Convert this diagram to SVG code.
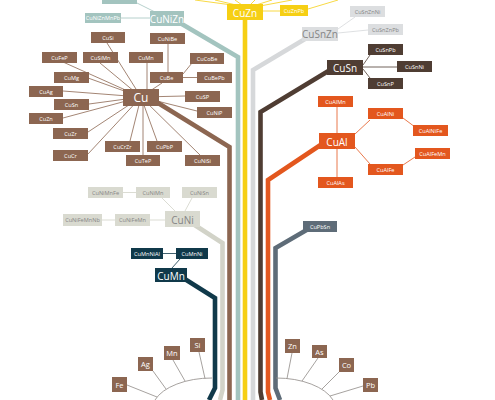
<svg xmlns="http://www.w3.org/2000/svg" width="495" height="400" viewBox="0 0 495 400">
<style>
text{font-family:"Open Sans","Noto Sans","Liberation Sans",sans-serif;text-anchor:middle;dominant-baseline:central}
.s{font-size:5.6px}
.m{font-size:10px}
.e{font-size:7.5px}
.w{fill:#fff}
.g{fill:#858585}
.yt{fill:#fff}
.trunk{fill:none;stroke-width:4.6;stroke-linejoin:miter}
.thin{fill:none;stroke-width:0.8}
.br{fill:#8c6651}.bl{stroke:#8c6651}
.el{stroke:#8f8a86}
.ye{fill:#f6cf14}.yl{stroke:#f6cf14}
.te{fill:#a3c4bf}.tl{stroke:#a3c4bf}
.be{fill:#d9dad0}.bel{stroke:#d2d3c8}
.lg{fill:#dcdee0}.lgl{stroke:#d6d8da}
.db{fill:#4f3d33}.dbl{stroke:#4f3d33}
.or{fill:#e3571e}.orl{stroke:#e3571e}
.sl{fill:#5e6c78}.sll{stroke:#5e6c78}
.nv{fill:#10394a}.nvl{stroke:#10394a}
</style>
<rect width="495" height="400" fill="#fff"/>
<g id="connectors">
<path class="trunk yl" d="M245,18 V400"/>
<path class="trunk tl" d="M175,20 L238,57 V400"/>
<path class="trunk bl" d="M150,98 L229.5,147 V400"/>
<path class="trunk bel" d="M190,222 L222.5,243 V390 L220,400"/>
<path class="trunk nvl" d="M180,276 L215,298 V388 L209,400"/>
<path class="trunk lgl" d="M310,36 L253,70 V400"/>
<path class="trunk dbl" d="M335,67 L260.5,112 V392 L262,400"/>
<path class="trunk orl" d="M325,142 L268,180 V392 L270,400"/>
<path class="trunk sll" d="M310,228 L275.5,248 V388 L280,400"/>
<g class="thin yl">
<path d="M232,5 L195,0"/><path d="M236,5 L215,0"/><path d="M242,5 L235,0"/><path d="M250,5 L255,0"/><path d="M256,5 L272,0"/><path d="M260,6 L292,0"/>
<path d="M263,11 H280"/><path d="M308,9 L338,0"/>
</g>
<g class="thin tl"><path d="M121,18 H150"/><path d="M137,3 L155,12"/></g>
<g class="thin bl">
<path d="M107,43 L141,97"/><path d="M63,62 L141,97"/><path d="M100,63 L141,97"/><path d="M147,63 V97"/>
<path d="M88,78 L141,97"/><path d="M63,91 L141,97"/><path d="M89,104 L141,97"/><path d="M63,118 L141,97"/>
<path d="M88,132 L141,97"/><path d="M88,154 L141,97"/><path d="M130,141 L141,97"/><path d="M143,155 V97"/><path d="M157,141 L141,97"/><path d="M200,155 L141,97"/>
<path d="M185,96 L141,97"/><path d="M197,111 L141,97"/><path d="M162,83 L141,97"/>
<path d="M168,44 V72"/><path d="M183,74 L192,63"/><path d="M183,77.5 H197"/>
</g>
<g class="thin lgl"><path d="M338,29 L355,17"/><path d="M338,33 L368,30"/></g>
<g class="thin dbl"><path d="M363,65 L370,55"/><path d="M363,67 H397"/><path d="M363,69 L370,78"/></g>
<g class="thin orl"><path d="M337,107 V133"/><path d="M337,149 V177"/><path d="M355,134 L370,120"/><path d="M403,118 L415,127"/><path d="M355,147 L370,164"/><path d="M403,165 L415,157"/></g>
<g class="thin bel"><path d="M123,192.5 H136"/><path d="M162,198 L175,211"/><path d="M192,198 L185,211"/><path d="M102,220 H115"/><path d="M150,220 H165"/></g>
<g class="thin nvl"><path d="M163,253.5 H176"/><path d="M180,259 L172,268"/></g>
<g class="thin el">
<path d="M155,400 A60,32 0 0 1 212,378"/>
<path d="M276,378 A60,32 0 0 1 333,400"/>
<path d="M127,385 L157,397"/><path d="M153,371 L166,389"/><path d="M173,360 L185,381"/><path d="M199,352 L205,378.5"/>
<path d="M292,353 L287,378.5"/><path d="M318,358 L302,381"/><path d="M339,372 L322,389"/><path d="M363,386 L330,396"/>
</g>
</g>

<g id="CuZn"><rect class="ye" x="227" y="4" width="36" height="16"/><text class="m yt" x="245" y="12.5">CuZn</text></g>
<g id="CuZnPb"><rect class="ye" x="280" y="5" width="28" height="11"/><text class="s yt" x="294" y="10.5">CuZnPb</text></g>
<g id="CuNiZn"><rect class="te" x="150" y="11" width="34" height="15"/><text class="m w" x="167" y="18.5">CuNiZn</text></g>
<g id="CuNiZnMnPb"><rect class="te" x="85" y="13" width="36" height="10"/><text class="s w" x="103" y="18">CuNiZnMnPb</text></g>
<g id="CuNiZnTop"><rect class="te" x="102" y="-7" width="35" height="11"/></g>

<g id="CuSi"><rect class="br" x="91" y="32" width="34" height="11"/><text class="s w" x="108" y="37.5">CuSi</text></g>
<g id="CuNiBe"><rect class="br" x="150" y="33" width="35" height="11"/><text class="s w" x="167.5" y="38.5">CuNiBe</text></g>
<g id="CuFeP"><rect class="br" x="42" y="52" width="35" height="11"/><text class="s w" x="59.5" y="57.5">CuFeP</text></g>
<g id="CuSiMn"><rect class="br" x="83" y="52" width="35" height="11"/><text class="s w" x="100.5" y="57.5">CuSiMn</text></g>
<g id="CuMn1"><rect class="br" x="129" y="52" width="34" height="11"/><text class="s w" x="146" y="57.5">CuMn</text></g>
<g id="CuCoBe"><rect class="br" x="190" y="53" width="34" height="11"/><text class="s w" x="207" y="58.5">CuCoBe</text></g>
<g id="CuMg"><rect class="br" x="54" y="72" width="35" height="11"/><text class="s w" x="71.5" y="77.5">CuMg</text></g>
<g id="CuBe"><rect class="br" x="150" y="72" width="33" height="11"/><text class="s w" x="166.5" y="77.5">CuBe</text></g>
<g id="CuBePb"><rect class="br" x="197" y="72" width="35" height="11"/><text class="s w" x="214.5" y="77.5">CuBePb</text></g>
<g id="CuAg"><rect class="br" x="29" y="86" width="34" height="11"/><text class="s w" x="46" y="91.5">CuAg</text></g>
<g id="CuSP"><rect class="br" x="185" y="91" width="35" height="11"/><text class="s w" x="202.5" y="96.5">CuSP</text></g>
<g id="CuSn1"><rect class="br" x="54" y="99" width="35" height="11"/><text class="s w" x="71.5" y="104.5">CuSn</text></g>
<g id="CuNiP"><rect class="br" x="197" y="107" width="35" height="11"/><text class="s w" x="214.5" y="112.5">CuNiP</text></g>
<g id="CuZn1"><rect class="br" x="29" y="113" width="34" height="11"/><text class="s w" x="46" y="118.5">CuZn</text></g>
<g id="CuZr"><rect class="br" x="53" y="128" width="35" height="11"/><text class="s w" x="70.5" y="133.5">CuZr</text></g>
<g id="CuCrZr"><rect class="br" x="105" y="141" width="35" height="11"/><text class="s w" x="122.5" y="146.5">CuCrZr</text></g>
<g id="CuPbP"><rect class="br" x="147" y="141" width="35" height="11"/><text class="s w" x="164.5" y="146.5">CuPbP</text></g>
<g id="CuCr"><rect class="br" x="53" y="150" width="35" height="11"/><text class="s w" x="70.5" y="155.5">CuCr</text></g>
<g id="CuTeP"><rect class="br" x="126" y="155" width="34" height="11"/><text class="s w" x="143" y="160.5">CuTeP</text></g>
<g id="CuNiSi"><rect class="br" x="185" y="155" width="35" height="11"/><text class="s w" x="202.5" y="160.5">CuNiSi</text></g>
<g id="Cu"><rect class="br" x="123" y="89" width="36" height="17"/><text class="w" style="font-size:12px" x="141" y="97.5">Cu</text></g>

<g id="CuSnZn"><rect class="lg" x="302" y="27" width="36" height="14"/><text class="m g" x="320" y="34">CuSnZn</text></g>
<g id="CuSnZnNi"><rect class="lg" x="350" y="6" width="35" height="11"/><text class="s g" x="367.5" y="11.5">CuSnZnNi</text></g>
<g id="CuSnZnPb"><rect class="lg" x="368" y="24" width="35" height="11"/><text class="s g" x="385.5" y="29.5">CuSnZnPb</text></g>

<g id="CuSn"><rect class="db" x="327" y="60" width="36" height="15"/><text class="m w" x="345" y="67.5">CuSn</text></g>
<g id="CuSnPb"><rect class="db" x="368" y="44" width="35" height="11"/><text class="s w" x="385.5" y="49.5">CuSnPb</text></g>
<g id="CuSnNi"><rect class="db" x="397" y="61" width="35" height="11"/><text class="s w" x="414.5" y="66.5">CuSnNi</text></g>
<g id="CuSnP"><rect class="db" x="368" y="78" width="35" height="11"/><text class="s w" x="385.5" y="83.5">CuSnP</text></g>

<g id="CuAlMn"><rect class="or" x="318" y="96" width="35" height="11"/><text class="s w" x="335.5" y="101.5">CuAlMn</text></g>
<g id="CuAlNi"><rect class="or" x="368" y="108" width="35" height="11"/><text class="s w" x="385.5" y="113.5">CuAlNi</text></g>
<g id="CuAlNiFe"><rect class="or" x="413" y="125" width="35" height="11"/><text class="s w" x="430.5" y="130.5">CuAlNiFe</text></g>
<g id="CuAl"><rect class="or" x="319" y="133" width="36" height="16"/><text class="m w" x="337" y="141.5">CuAl</text></g>
<g id="CuAlFeMn"><rect class="or" x="415" y="148" width="35" height="11"/><text class="s w" x="432.5" y="153.5">CuAlFeMn</text></g>
<g id="CuAlFe"><rect class="or" x="368" y="164" width="35" height="11"/><text class="s w" x="385.5" y="169.5">CuAlFe</text></g>
<g id="CuAlAs"><rect class="or" x="318" y="177" width="35" height="11"/><text class="s w" x="335.5" y="182.5">CuAlAs</text></g>

<g id="CuNiMnFe"><rect class="be" x="88" y="187" width="35" height="11"/><text class="s g" x="105.5" y="192.5">CuNiMnFe</text></g>
<g id="CuNiMn"><rect class="be" x="136" y="187" width="34" height="11"/><text class="s g" x="153" y="192.5">CuNiMn</text></g>
<g id="CuNiSn"><rect class="be" x="182" y="187" width="35" height="11"/><text class="s g" x="199.5" y="192.5">CuNiSn</text></g>
<g id="CuNiFeMnNb"><rect class="be" x="63" y="214" width="39" height="12"/><text class="s g" x="82.5" y="220">CuNiFeMnNb</text></g>
<g id="CuNiFeMn"><rect class="be" x="115" y="214" width="35" height="12"/><text class="s g" x="132.5" y="220">CuNiFeMn</text></g>
<g id="CuNi"><rect class="be" x="165" y="211" width="35" height="16"/><text class="m g" x="182.5" y="219.5">CuNi</text></g>

<g id="CuPbSn"><rect class="sl" x="303" y="221" width="34" height="11"/><text class="s w" x="320" y="226.5">CuPbSn</text></g>

<g id="CuMnNiAl"><rect class="nv" x="131" y="248" width="32" height="11"/><text class="s w" x="147" y="253.5">CuMnNiAl</text></g>
<g id="CuMnNi"><rect class="nv" x="176" y="248" width="32" height="11"/><text class="s w" x="192" y="253.5">CuMnNi</text></g>
<g id="CuMn"><rect class="nv" x="155" y="268" width="32" height="14"/><text class="m w" x="171" y="275.5">CuMn</text></g>

<g id="Fe"><rect class="br" x="112" y="377" width="15" height="15"/><text class="e w" x="119.5" y="384.5">Fe</text></g>
<g id="Ag"><rect class="br" x="138" y="357" width="15" height="14"/><text class="e w" x="145.5" y="364">Ag</text></g>
<g id="Mn"><rect class="br" x="164" y="346" width="16" height="14"/><text class="e w" x="172" y="353">Mn</text></g>
<g id="Si"><rect class="br" x="190" y="338" width="15" height="14"/><text class="e w" x="197.5" y="345">Si</text></g>
<g id="Zn"><rect class="br" x="285" y="339" width="15" height="14"/><text class="e w" x="292.5" y="346">Zn</text></g>
<g id="As"><rect class="br" x="312" y="345" width="15" height="13"/><text class="e w" x="319.5" y="351.5">As</text></g>
<g id="Co"><rect class="br" x="339" y="358" width="15" height="14"/><text class="e w" x="346.5" y="365">Co</text></g>
<g id="Pb"><rect class="br" x="363" y="378" width="15" height="14"/><text class="e w" x="370.5" y="385">Pb</text></g>
</svg>
